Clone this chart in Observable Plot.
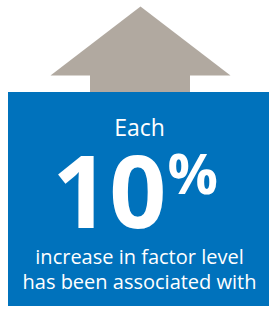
<!DOCTYPE html>
<html>
<head>
<meta charset="utf-8">
<script src="https://cdn.jsdelivr.net/npm/d3@7"></script>
<script src="https://cdn.jsdelivr.net/npm/@observablehq/plot@0.6"></script>
<style>
  html, body { margin: 0; padding: 0; background: #ffffff; }
  svg { display: block; }
</style>
</head>
<body>
<div id="chart"></div>
<script>
// Text content of the infographic
const headline = ["Each"];
const bigValue = ["10"];
const bigUnit = ["%"];
const bodyLines = ["increase in factor level", "has been associated with"];

// Shape geometry (in pixel-like units of the canvas)
const arrowHead = [
  {x: 50, y: 75}, {x: 140, y: 6}, {x: 230, y: 75}, {x: 50, y: 75}
];
const arrowShaft = [{x1: 90, x2: 190, y1: 74, y2: 93}];
const box = [{x1: 8, x2: 269, y1: 92, y2: 306}];

const W = 269, H = 309;
const font = "'Open Sans', 'Noto Sans', sans-serif";

const chart = Plot.plot({
  width: W,
  height: H,
  margin: 0,
  style: {background: "#ffffff", fontFamily: font},
  x: {domain: [0, W], range: [0, W], axis: null},
  y: {domain: [0, H], range: [0, H], axis: null},
  marks: [
    Plot.rect(arrowShaft, {x1: "x1", x2: "x2", y1: "y1", y2: "y2", fill: "#b1a9a0", inset: 0}),
    Plot.line(arrowHead, {x: "x", y: "y", fill: "#b1a9a0", stroke: "none"}),
    Plot.rect(box, {x1: "x1", x2: "x2", y1: "y1", y2: "y2", fill: "#0072bc", inset: 0}),
    Plot.text(headline, {x: 139, y: 135, text: d => d, fill: "white", fontSize: 23, lineAnchor: "bottom", textAnchor: "middle", fontFamily: font}),
    Plot.text(bigValue, {x: 166, y: 227, text: d => d, fill: "white", fontSize: 100, fontWeight: "bold", lineAnchor: "bottom", textAnchor: "end", letterSpacing: -4, fontFamily: font}),
    Plot.text(bigUnit, {x: 167, y: 193, text: d => d, fill: "white", fontSize: 56, fontWeight: "bold", lineAnchor: "bottom", textAnchor: "start", fontFamily: font}),
    Plot.text(bodyLines, {x: 139, y: (d, i) => 263 + i * 25, text: d => d, fill: "white", fontSize: 20, lineAnchor: "bottom", textAnchor: "middle", fontFamily: font})
  ]
});
document.getElementById("chart").appendChild(chart);
</script>
</body>
</html>
